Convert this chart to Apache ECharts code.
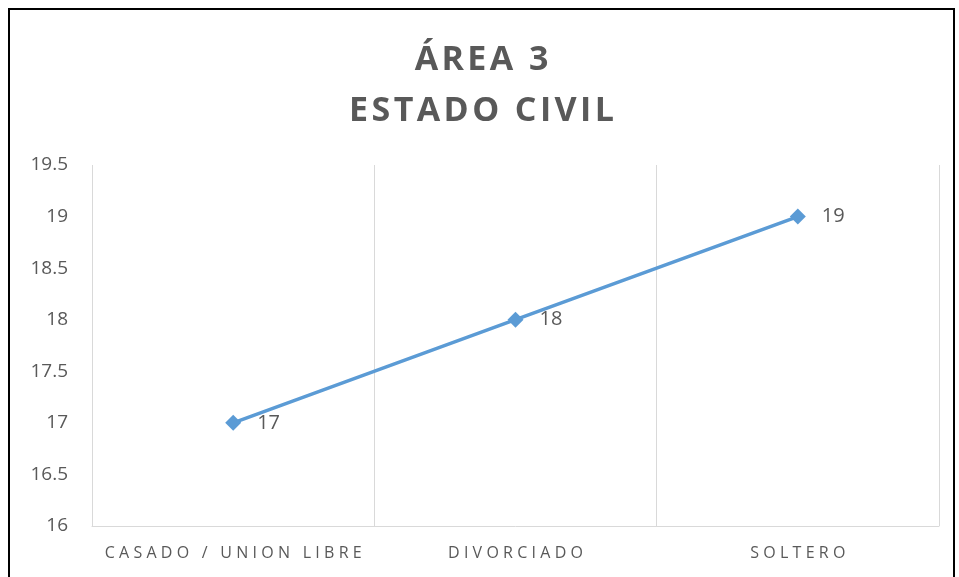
<!DOCTYPE html>
<html>
<head>
<meta charset="utf-8">
<script src="https://cdn.jsdelivr.net/npm/echarts@6/dist/echarts.min.js"></script>
<style>
  html, body { margin: 0; padding: 0; background: #fff; }
  #chart_box {
    position: absolute; left: 8px; top: 8px;
    width: 947px; height: 575px;
    border-left: 2px solid #000; border-top: 2px solid #000; border-right: 2px solid #000;
    box-sizing: border-box;
  }
  #myecharts { width: 100%; height: 100%; }
</style>
</head>
<body>
<div id="chart_box"><div id="myecharts"></div></div>
<script>
// datos
var titleLines = ["ÁREA 3", "ESTADO CIVIL"];
var categories = ["CASADO / UNION LIBRE", "DIVORCIADO", "SOLTERO"];
var values = [17, 18, 19];
var yMin = 16, yMax = 19.5, yStep = 0.5;

// espaciado entre letras (el canvas no tiene letter-spacing)
function spaced(s, sp) {
  return s.split("").join(sp);
}

var mychart = echarts.init(document.getElementById("myecharts"));

var option = {
  animation: false,
  title: {
    text: titleLines.map(function (t) { return spaced(t, "\u200a"); }).join("\n"),
    left: "center",
    top: 20,
    textStyle: {
      fontFamily: "Open Sans",
      fontWeight: "bold",
      fontSize: 34,
      lineHeight: 51,
      color: "#595959"
    }
  },
  grid: { left: 82, right: 14, top: 155, bottom: 57 },
  xAxis: {
    type: "category",
    data: categories,
    boundaryGap: true,
    axisLine: { lineStyle: { color: "#D9D9D9", width: 1 } },
    axisTick: { show: false },
    splitLine: { show: true, lineStyle: { color: "#D9D9D9", width: 1 } },
    axisLabel: {
      interval: 0,
      margin: 19,
      fontFamily: "Open Sans",
      fontSize: 16,
      color: "#595959",
      formatter: function (v) { return spaced(v, "\u2009\u200a"); }
    }
  },
  yAxis: {
    type: "value",
    min: yMin,
    max: yMax,
    interval: yStep,
    axisLine: { show: false },
    axisTick: { show: false },
    splitLine: { show: false },
    axisLabel: {
      margin: 24,
      fontFamily: "Open Sans",
      fontSize: 19,
      color: "#595959"
    }
  },
  series: [
    {
      type: "line",
      data: values,
      symbol: "diamond",
      symbolSize: 16,
      lineStyle: { color: "#5B9BD5", width: 3.5 },
      itemStyle: { color: "#5B9BD5" },
      label: {
        show: true,
        position: "right",
        distance: 16,
        fontFamily: "Open Sans",
        fontSize: 20,
        color: "#595959"
      }
    }
  ]
};

mychart.setOption(option);
</script>
</body>
</html>
